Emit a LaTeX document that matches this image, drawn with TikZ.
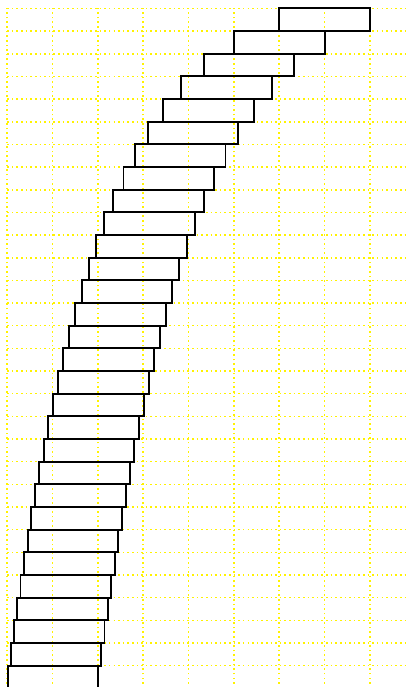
\documentclass[tikz,border=0pt]{standalone}
\tikzset{
  gridline/.style={yellow,line width=1pt,dash pattern=on 1pt off 1.9pt},
  brick/.style={draw=black,line width=1.2pt}
}
\begin{document}
\begin{tikzpicture}[x=1cm,y=0.5cm]
  \clip (-0.16,0.06) rectangle (8.86,30.37);
  \foreach \x in {0,...,8}
    \draw[gridline] (\x,0) -- (\x,30);
  \foreach \y in {0,...,30}
    \draw[gridline] (0,\y) -- (9,\y);
  \def\lft{6}
  \foreach \k in {1,...,30}{
    \pgfmathsetmacro\y{30-\k}
    \draw[brick] (\lft,\y) rectangle ++(2,1);
    \pgfmathsetmacro\nxt{\lft-2/(\k+1)}
    \global\let\lft\nxt
  }
\end{tikzpicture}
\end{document}
